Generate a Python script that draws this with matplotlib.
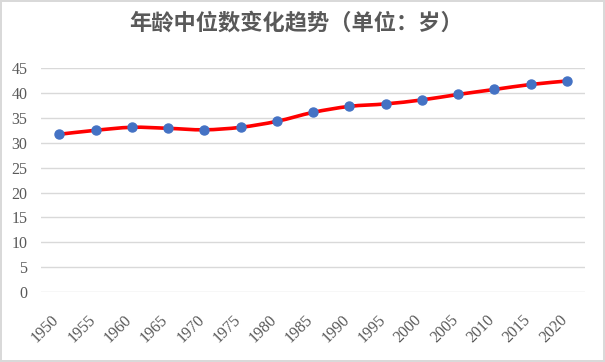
import matplotlib.pyplot as plt
import matplotlib.transforms as mtransforms
import numpy as np
from matplotlib.path import Path
from matplotlib.patches import PathPatch

plt.rcParams['font.family'] = ['Liberation Serif', 'Noto Sans CJK SC']

years = ['1950', '1955', '1960', '1965', '1970', '1975', '1980', '1985',
         '1990', '1995', '2000', '2005', '2010', '2015', '2020']
median_age = [31.7, 32.5, 33.1, 32.9, 32.6, 33.1, 34.3, 36.1,
              37.3, 37.8, 38.6, 39.7, 40.7, 41.7, 42.4]

fig = plt.figure(figsize=(6.05, 3.62), dpi=100, edgecolor='#D9D9D9', linewidth=1.5)
ax = fig.add_axes([0.068, 0.193, 0.899, 0.619])

x = np.arange(len(years))
y = np.array(median_age)

# smoothed line like excel (catmull-rom -> bezier)
verts = [(x[0], y[0])]
codes = [Path.MOVETO]
for i in range(len(x) - 1):
    p0 = (x[max(i - 1, 0)], y[max(i - 1, 0)])
    p1 = (x[i], y[i])
    p2 = (x[i + 1], y[i + 1])
    p3 = (x[min(i + 2, len(x) - 1)], y[min(i + 2, len(x) - 1)])
    c1 = (p1[0] + (p2[0] - p0[0]) / 6, p1[1] + (p2[1] - p0[1]) / 6)
    c2 = (p2[0] - (p3[0] - p1[0]) / 6, p2[1] - (p3[1] - p1[1]) / 6)
    verts += [c1, c2, p2]
    codes += [Path.CURVE4] * 3
ax.add_patch(PathPatch(Path(verts, codes), facecolor='none', edgecolor='#FF0000',
                       linewidth=2.6, capstyle='round', zorder=3))
ax.plot(x, y, linestyle='none', marker='o', markersize=6.5, color='#4472C4', zorder=4)

ax.set_xlim(-0.5, len(years) - 0.5)
ax.set_ylim(0, 45)
ax.set_yticks(range(0, 50, 5))
ax.set_xticks(x)
ax.set_xticklabels(years, rotation=45, ha='right', va='top', rotation_mode='anchor')
ax.tick_params(axis='both', length=0, labelsize=11.5, labelcolor='#595959')
ax.tick_params(axis='x', pad=14)
ax.tick_params(axis='y', pad=10)
shift = mtransforms.ScaledTranslation(-8 / 100, 0, fig.dpi_scale_trans)
for lab in ax.get_xticklabels():
    lab.set_transform(lab.get_transform() + shift)
ax.grid(axis='y', color='#D9D9D9', linewidth=1)
ax.set_axisbelow(True)
for s in ax.spines.values():
    s.set_visible(False)

fig.text(0.49, 0.935, '年龄中位数变化趋势（单位：岁）', ha='center', va='center',
         fontsize=16, fontweight='bold', color='#595959', family=['Noto Sans CJK SC'])

fig.savefig('out.png', dpi=100, edgecolor=fig.get_edgecolor())
